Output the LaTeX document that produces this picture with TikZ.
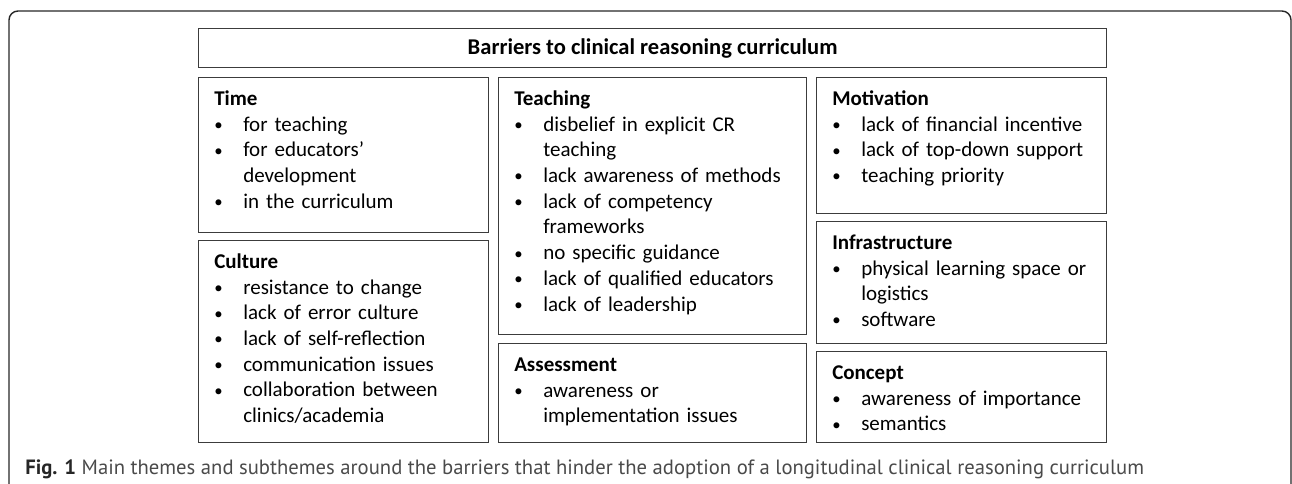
\documentclass[tikz,border=0pt]{standalone}
\usepackage{fontspec}
\setmainfont{Carlito}
\newfontfamily\capfont{PT Sans}
\usetikzlibrary{positioning}

\newlength{\px}
\setlength{\px}{0.75pt}
\definecolor{boxline}{HTML}{3C3C3C}
\definecolor{captext}{HTML}{4A4A4A}

% one bullet point, with hanging indent for wrapped lines
\newcommand{\itm}[1]{\par\noindent\hangindent=29\px\hangafter=1%
  \makebox[29\px][l]{\raisebox{0.5pt}{\scalebox{0.8}{\textbullet}}}#1\par}
\newcommand{\theme}[1]{\strut\textbf{#1}}

\tikzset{
  themebox/.style={draw=boxline, line width=1.3\px, anchor=north west, inner sep=0pt},
  themetext/.style={anchor=north west, inner sep=0pt, text width=#1, align=left,
    font=\fontsize{15.75}{19.3}\selectfont}
}

\begin{document}
\begin{tikzpicture}[x=\px, y=-\px]
            \useasboundingbox (0,0) rectangle (1292,484);
            % outer frame, open at the bottom
            \draw[black!85, line width=1.4\px, rounded corners=9\px]
                (9,484) -- (9,11) -- (1291,11) -- (1291,484);

            % title
            \node[themebox, minimum width=908\px, minimum height=39\px,
                font=\fontsize{16.9}{20}\selectfont\bfseries] (title) at (198,28)
                {Barriers to clinical reasoning curriculum};

            % left column
            \node[themebox, minimum width=290\px, minimum height=155\px] (time) at (198,77) {};
            \node[themebox, minimum width=290\px, minimum height=202\px] (culture) at (198,240) {};
            % middle column
            \node[themebox, minimum width=308\px, minimum height=257\px] (teaching) at (498,77) {};
            \node[themebox, minimum width=308\px, minimum height=99\px] (assessment) at (498,343) {};
            % right column
            \node[themebox, minimum width=290\px, minimum height=136\px] (motivation) at (816,77) {};
            \node[themebox, minimum width=290\px, minimum height=122\px] (infra) at (816,221) {};
            \node[themebox, minimum width=290\px, minimum height=91\px] (concept) at (816,351) {};

            \node[themetext=280\px] (timetxt) at ([shift={(16,10)}]time.north west) {%
                \theme{Time}
                \itm{for teaching}
                \itm{for educators’\newline development}
                \itm{in the curriculum}};
            \node[themetext=280\px] (culturetxt) at ([shift={(16,10)}]culture.north west) {%
                \theme{Culture}
                \itm{resistance to change}
                \itm{lack of error culture}
                \itm{lack of self-reflection}
                \itm{communication issues}
                \itm{collaboration between\newline clinics/academia}};
            \node[themetext=300\px] (teachingtxt) at ([shift={(16,10)}]teaching.north west) {%
                \theme{Teaching}
                \itm{disbelief in explicit CR\newline teaching}
                \itm{lack awareness of methods}
                \itm{lack of competency\newline frameworks}
                \itm{no specific guidance}
                \itm{lack of qualified educators}
                \itm{lack of leadership}};
            \node[themetext=300\px] (assessmenttxt) at ([shift={(16,10)}]assessment.north west) {%
                \theme{Assessment}
                \itm{awareness or\newline implementation issues}};
            \node[themetext=280\px] (motivationtxt) at ([shift={(16,10)}]motivation.north west) {%
                \theme{Motivation}
                \itm{lack of financial incentive}
                \itm{lack of top-down support}
                \itm{teaching priority}};
            \node[themetext=280\px] (infratxt) at ([shift={(16,10)}]infra.north west) {%
                \theme{Infrastructure}
                \itm{physical learning space or\newline logistics}
                \itm{software}};
            \node[themetext=280\px] (concepttxt) at ([shift={(16,10)}]concept.north west) {%
                \theme{Concept}
                \itm{awareness of importance}
                \itm{semantics}};

            % caption
            \node[anchor=base west, inner sep=0pt, text=captext,
                font=\capfont\fontsize{15.5}{18}\selectfont] (caption) at (25,474)
                {\textbf{\color{black!85}Fig. 1} Main themes and subthemes around the barriers that hinder the adoption of a longitudinal clinical reasoning curriculum};
        \end{tikzpicture}
\end{document}
